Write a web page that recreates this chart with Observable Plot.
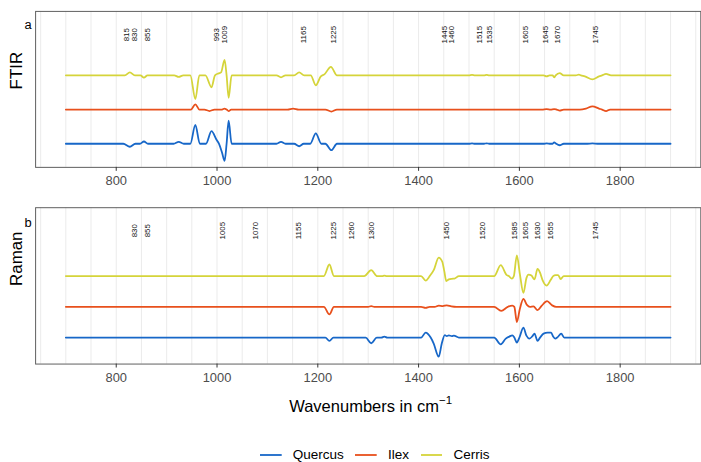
<!DOCTYPE html>
<html>
<head>
<meta charset="utf-8">
<script src="https://cdn.jsdelivr.net/npm/d3@7"></script>
<script src="https://cdn.jsdelivr.net/npm/@observablehq/plot@0.6"></script>
<style>
  html, body { margin: 0; padding: 0; background: #fff; overflow: hidden; }
  #fig { position: relative; width: 701px; height: 462px; overflow: hidden;
         font-family: "Liberation Sans", Arial, Helvetica, sans-serif; color: #000; }
  #fig svg.panel { position: absolute; left: 0; }
  #xtitle { position: absolute; left: 35.4px; width: 670.6px; top: 392.7px;
            font-size: 16.5px; line-height: 16.5px; text-align: center; white-space: nowrap; }
  #xtitle sup { font-size: 11.5px; position: relative; top: -1px; }
  #legend { position: absolute; left: 260px; top: 445px; height: 20px;
            display: flex; align-items: center; font-size: 13.5px; line-height: 20px; }
  #legend .item { display: flex; align-items: center; margin-right: 11.7px; }
  #legend svg { display: block; margin-right: 11px; }
</style>
</head>
<body>
<div id="fig"></div>
<script>
// Species and their colours
const species = ["Quercus", "Ilex", "Cerris"];
const speciesColors = ["#1767c8", "#e8501c", "#d5d43a"];

// Vertical stacking offsets of the traces (same order as species)
const ftirOffsets = [0, 34.5, 69];
const ramanOffsets = [0, 31, 62];

// Annotated band positions (cm^-1)
const ftirBands = [815, 830, 855, 993, 1009, 1165, 1225, 1445, 1460, 1515, 1535, 1605, 1645, 1670, 1745];
const ramanBands = [830, 855, 1005, 1070, 1155, 1225, 1260, 1300, 1450, 1520, 1585, 1605, 1630, 1655, 1745];

// Axis ticks and grid breaks
const xTicks = [800, 1000, 1200, 1400, 1600, 1800];
const gridBreaks = [650, 700, 750, 800, 850, 900, 950, 1000, 1050, 1100, 1150, 1200, 1250, 1300,
                    1350, 1400, 1450, 1500, 1550, 1600, 1650, 1700, 1750, 1800, 1850, 1900, 1950];

// FTIR second-derivative traces: [wavenumber, value]
const ftirQuercus = [
  [700, 0], [814, 0], [827, -3], [838, 0], [847, 0], [855, 2.3], [863, 0],
  [914, 0], [924, 2], [934, 0], [947, 0], [957, 19], [966, 0], [978, 0], [989, 12.7],
  [999, 4], [1004, 0], [1010, -9], [1015, -17.3], [1019, 0], [1023, 23.3], [1029, 0],
  [1118, 0], [1127, 2], [1136, 0], [1153, 0], [1163, -2.5], [1172, 0],
  [1185, 0], [1196, 10.5], [1207, 0], [1215, 0], [1227, -6.5], [1238, 0],
  [1500, 0], [1506, 0.5], [1512, 0], [1530, 0], [1535, 0.5], [1540, 0],
  [1648, 0], [1654, 0.5], [1662, 0], [1666, 0], [1669, 1.5], [1673, 0], [1680, -1.5], [1688, 0],
  [1735, 0], [1745, 0.3], [1755, 0], [1900, 0]
];
const ftirIlex = [
  [700, 0], [948, 0], [957, 5.3], [965, 0], [975, 0], [985, -1.5], [995, 0],
  [1010, 0], [1015, 1], [1019, 0], [1023, -1.5], [1028, 0],
  [1140, 0], [1151, 1], [1162, 0], [1215, 0], [1227, -2], [1238, 0],
  [1645, 0], [1654, 0.5], [1662, 0], [1669, 0.5], [1674, 0], [1680, -1], [1688, 0],
  [1720, 0], [1732, 1], [1745, 3.3], [1758, 1], [1764, 0], [1772, -1.5], [1780, 0], [1900, 0]
];
const ftirCerris = [
  [700, 0], [817, 0], [827, 3], [837, 0], [848, 0], [855, -2.3], [862, 0],
  [915, 0], [924, -1.5], [933, 0], [947, 0], [957, -24], [965, 0], [977, 0], [989, -12],
  [996, 0], [1003, 2], [1008, 3], [1015, 15.7], [1019, 0], [1023, -22.6], [1029, 0],
  [1118, 0], [1127, -2], [1136, 0], [1153, 0], [1163, 3], [1173, 0],
  [1186, 0], [1196, -10], [1206, -1], [1213, 1], [1226, 8.5], [1238, 0],
  [1500, 0], [1506, 0.5], [1512, 0], [1530, 0], [1535, 0.5], [1540, 0],
  [1648, 0], [1654, -1], [1660, 0], [1666, 0], [1669, -2], [1672, 0], [1680, 2.3], [1688, 0],
  [1712, 0], [1718, 0.7], [1722, 0], [1730, -1], [1745, -4], [1758, -1], [1764, 0], [1772, 1.5], [1782, 0],
  [1900, 0]
];

// Raman second-derivative traces: [wavenumber, value]
const ramanQuercus = [
  [700, 0], [1215, 0], [1223, -3.3], [1231, 0], [1295, 0], [1306, -5.7], [1317, 0],
  [1326, 0], [1332, 1], [1338, 0],
  [1405, 0], [1414, 5], [1424, 0], [1430, -6], [1440, -19.3], [1446, -6], [1452, 2.5],
  [1456, 1.5], [1460, 2.2], [1466, 1.5], [1470, 2], [1480, 0],
  [1550, 0], [1563, -6.8], [1573, -1], [1580, 1], [1586, 2.3], [1590, 0], [1595, -5], [1600, 0],
  [1608, 10], [1614, 2], [1620, -1], [1626, 1.5], [1630, 4], [1636, -3.3], [1641, 0],
  [1648, 4], [1656, 5], [1663, 5], [1667, 1], [1671, -1], [1676, 0.5], [1683, 4], [1689, 0], [1900, 0]
];
const ramanIlex = [
  [700, 0], [1212, 0], [1223, -7.7], [1232, 0], [1300, 0], [1306, 0.7], [1312, 0],
  [1405, 0], [1414, -1], [1422, 0], [1432, 0], [1440, 1.3], [1448, 0.8], [1456, 1.5], [1465, 0.5], [1475, 0],
  [1550, 0], [1564, -4], [1577, 0], [1586, 1.3], [1590, 0], [1595, -15.3], [1601, -2],
  [1608, 8], [1615, 2], [1621, 0], [1628, 0.5], [1636, -3.3], [1644, 1], [1655, 5.7],
  [1665, 1.5], [1673, 0], [1900, 0]
];
const ramanCerris = [
  [700, 0], [1212, 0], [1223, 11.7], [1232, 0],
  [1292, 0], [1306, 6], [1318, 0], [1328, 0], [1332, 0.5], [1337, 0],
  [1405, 0], [1414, -4.5], [1422, 0], [1430, 6], [1440, 18.7], [1447, 14.5], [1451, 5],
  [1455, -5], [1460, -3.3], [1466, -2.7], [1471, -2.5], [1480, 0],
  [1550, 0], [1563, 11], [1575, 1], [1579, 0], [1585, -2.5], [1589, 0], [1595, 21], [1601, 2],
  [1608, -17], [1614, -2], [1618, 1.5], [1624, 0.5], [1630, -3.3], [1636, 7.3], [1641, 3.5],
  [1646, -4], [1654, -9.5], [1662, -4], [1667, 0], [1672, 1], [1677, 1], [1682, -3], [1688, 0], [1900, 0]
];

// Stack each species' trace by its offset
function stack(traces, offsets) {
  return traces.flatMap((trace, i) =>
    trace.map(([x, v]) => ({x, y: v + offsets[i], species: species[i]})));
}
const ftirRows = stack([ftirQuercus, ftirIlex, ftirCerris], ftirOffsets);
const ramanRows = stack([ramanQuercus, ramanIlex, ramanCerris], ramanOffsets);

const font = '"Liberation Sans", Arial, Helvetica, sans-serif';
const plain = d => String(d);

function panel({rows, bands, yDomain, top, height, marginTop, marginBottom, tag, title, bandDy, tagDy}) {
  const svg = Plot.plot({
    width: 707,
    height,
    marginLeft: 35.4,
    marginRight: 0.7,
    marginTop,
    marginBottom,
    x: {domain: [640, 1960]},
    y: {domain: yDomain, axis: null},
    color: {domain: species, range: speciesColors},
    style: {fontFamily: font, background: "transparent", overflow: "visible", color: "#000"},
    marks: [
      Plot.gridX(gridBreaks, {stroke: "#ebebeb", strokeOpacity: 1, strokeWidth: 1}),
      Plot.line(rows, {x: "x", y: "y", z: "species", stroke: "species",
                       strokeWidth: 1.8, curve: "monotone-x"}),
      Plot.frame({stroke: "#5e5e5e", strokeWidth: 1}),
      Plot.axisX(xTicks, {tickSize: 4, tickPadding: 5, fontSize: 13, fill: "#4d4d4d",
                          stroke: "#333", label: null, tickFormat: plain}),
      Plot.text(bands, {x: d => d, text: plain, frameAnchor: "top", dy: bandDy, rotate: -90,
                        fontSize: 8, fill: "#111"}),
      Plot.text([tag], {frameAnchor: "top-left", dx: -4, dy: tagDy, textAnchor: "end",
                        lineAnchor: "bottom", fontSize: 13}),
      Plot.text([title], {frameAnchor: "left", dx: -18.7, rotate: -90, fontSize: 17})
    ]
  });
  svg.classList.add("panel");
  svg.style.top = top + "px";
  return svg;
}

const fig = document.getElementById("fig");

fig.appendChild(panel({
  rows: ftirRows, bands: ftirBands, yDomain: [-23.8, 133.5],
  top: 0, height: 200, marginTop: 11, marginBottom: 31.7,
  tag: "a", title: "FTIR", bandDy: 23.5, tagDy: 18
}));

fig.appendChild(panel({
  rows: ramanRows, bands: ramanBands, yDomain: [-26.7, 131],
  top: 196, height: 200, marginTop: 11.3, marginBottom: 31,
  tag: "b", title: "Raman", bandDy: 23.2, tagDy: 19
}));

// Axis title
const xtitle = document.createElement("div");
xtitle.id = "xtitle";
xtitle.innerHTML = "Wavenumbers in cm<sup>\u22121</sup>";
fig.appendChild(xtitle);

// Legend: a short line swatch per species followed by its name
const legend = d3.select(fig).append("div").attr("id", "legend");
species.forEach((s, i) => {
  const item = legend.append("div").attr("class", "item");
  const sw = item.append("svg").attr("width", 21.7).attr("height", 6);
  sw.append("line").attr("x1", 0).attr("x2", 21.7).attr("y1", 3).attr("y2", 3)
    .attr("stroke", speciesColors[i]).attr("stroke-width", 1.8);
  item.append("span").text(s);
});
</script>
</body>
</html>
